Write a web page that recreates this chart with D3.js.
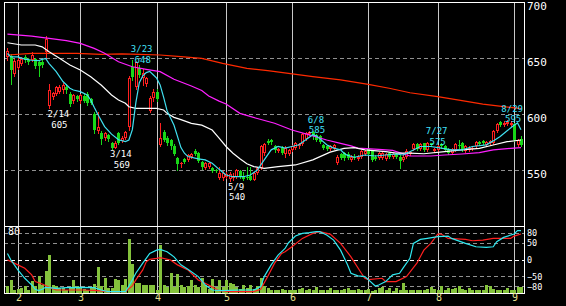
<!DOCTYPE html>
<html><head><meta charset="utf-8">
<script src="https://cdn.jsdelivr.net/npm/d3@7"></script>
<style>html,body{margin:0;padding:0;background:#000;}svg{display:block;}</style>
</head><body>
<svg id="c" width="566" height="306"></svg>
<script>
// ---------- DATA ----------
const monthLabels = ["1","2","3","4","5","6","7","8","9"];
const monthDays   = [3,18,22,20,19,22,20,22,3];   // trading days shown per month

// daily candles [open, high, low, close]
const ohlc = [
[651,659,648,656],[652,654,627,639],[636,649,634,647],[641,650,640,648],[645,651,644,649],
[651,653,646,648],[648,650,645,646],[648,655,647,653],[649,650,641,643],[646,647,634,643],
[646,648,642,644],[655,670,651,667],[607,627,605,621],[615,620,613,619],[618,625,617,624],
[620,626,619,624],[621,628,619,626],[624,627,619,621],[618,620,607,609],[612,618,610,617],
[616,617,612,613],[612,618,610,617],[616,618,611,612],[618,620,608,610],[613,614,609,610],
[600,602,583,586],[585,602,583,588],[583,585,573,578],[579,584,577,583],[581,582,576,578],
[574,575,569,570],[570,576,569.5,574],[583,584,573,574],[576,580,575,579],[579,585,578,584],
[588,634,586,632],[642,648,630,633],[624,647,622,646],[641,644,633,635],[632,640,626,637],
[627,633,625,632],[603,616,602,614],[614,622,612,620],[620,622,612,613],[572,592,571,579],
[584,586,576,577],[579,580,572,574],[577,578,569,571],[571,573,563,564],[561,562,550,555],
[555,557,553,556],[560,561,556,557],[559,564,558,563],[562,565,561,564],[567,569,563,564],
[565,566,557,558],[557,558,551,553],[552,557,551,556],[553,557,552,556],[552,553,548,549],
[550,551,548,549],[543,553,542,547],[543,549,541,547],[544,548,543,546],[542,548,540,546],
[543,547,541,545],[544,551,543,550],[549,550,543,544],[545,548,541,542],[544,553,542,543],
[545,553,541,541.5],[541,548,541,547],[547,553,546,552],[552,572,551,571],[565,574,563,573],
[576,578,573,574],[577,578,573,575],[571,572,566,568],[567,570,566,569],[570,571,564,565],
[564,571,562,570],[564,569,563,568],[568,572,567,571],[570,575,569,574],[571,574,570,573],
[573,583,572,582],[578,584,577,583],[582,585,581,584],[584,584.5,578,580],[581,582,576,577],
[580,581,574,575],[572,573,569,570],[571,572,568,569],[569,572,568,571],[570,573,569,572],
[556,563,555,562],[564,565,560,561],[565,566,559,561],[564,566,560,561],[559,563,558,562],
[562,564,560,561],[560,563,559,562],[562,568,561,567],[564,568,563,567],[569,570,563,564],
[567,568,558,559],[562,563,559,560],[561,566,560,565],[561,566,560,565],[560,565,559,564],
[565,566,561,562],[562,565,561,564],[564,565,561,562],[562,563,552,558],[559,563,558,562],
[562,569,561,567],[564,567,563,566],[569,574,568,573],[573,574,568,569],[569,574,568,573],
[574,574.5,567,568],[568,575,567,574],[574,574.5,571,572],[567,570,566,569],[568,572,567,571],
[573,574,570,571],[571,572,567,568],[569,570,564,565],[565,570,564,569],[568,574,567,573],
[572,577,570,571],[574,575,567,568],[567,572,566,571],[568,571,567,570],[569,571,568,570],
[571,576,570,575],[575,576,572,573],[576,577,573,574],[572,576,571,575],[574,577,573,576],
[574,586,573,585],[585,592,584,591],[593,594,589,590],[590,594,589,592],[591,595,590,593],
[590,594,589,592],[591,592,576,577],[572,578,571,577],[578,580,571,572]
];

const volume = [
10,20,5,6,7,11,4,18,11,26, 12,33,57,12,10,7,7,5,7,20, 10,7,6,5,7,14,39,10,23,7,
7,21,19,12,21,80,44,15,15,12, 12,12,12,5,71,12,9,30,9,28, 12,9,10,19,12,9,23,12,6,21,
9,20,9,19,15,14,9,6,12,7, 12,6,11,22,11,7,5,4,5,6, 5,5,5,5,6,7,5,6,5,9,
5,5,5,7,5,5,4,6,7,4, 5,6,4,5,6,3,5,7,9,4, 7,3,7,5,15,5,4,5,5,5,
4,6,9,6,5,10,5,7,6,7, 11,6,5,7,5,4,4,4,12,11, 6,5,4,4,7,5,4,9,9
];

// moving averages: [day index, value]
const maShort = [[0,654],[1,651],[3,651],[5,649],[7,648],[9,647.6],[10,648.8],[11,649.7],[12,645],[14,638],
[16,629],[18,623],[19,621.4],[21,620],[23,617],[24,612.5],[25,606],[26,600],[28,588.7],[30,582],[32,577],
[34,575.3],[35,576.8],[36,586],[37,610],[38,628],[39,634],[40,637],[41,638],[42,635],[43,632],[44,626],
[45,615],[46,603],[48,590],[49,580],[50,570],[51,565],[52,562],[55,560],[57,559],[59,556],[61,550.6],
[63,545.5],[65,544],[68,544],[70,545.5],[72,550],[74,559],[76,568],[78,571],[80,569.5],[82,571],[84,572.5],
[86,577],[88,581.5],[89,580.5],[90,578],[92,572.5],[94,569.5],[96,568],[97,565],[98,563],[100,561.4],
[103,563.4],[106,562.5],[109,563.4],[112,564.3],[114,563.4],[117,567.9],[119,571],[122,571],[125,569.5],
[128,567.9],[131,567.9],[134,571],[138,572.5],[140,576],[142,580],[144,585],[146,590],[147,592],[148,586]];
const maMid = [[0,663.6],[4,661.6],[8,661.6],[10,660],[12,655.6],[15,649.7],[18,643.7],[21,639.3],[24,633.3],
[27,625.9],[30,617],[32,612.5],[34,609.6],[35,606.5],[37,605],[40,605],[43,605],[45,603.6],[46,600.6],[48,597],
[50,595],[53,591.7],[56,590],[59,585.7],[61,578.5],[63,571],[65,565],[67,560],[69,555.5],[71,553],[74,551.5],
[78,553],[83,554.5],[88,559],[93,566],[97,569.3],[100,570],[103,567.9],[109,566.4],[112,565],[116,565],
[120,564.5],[126,566.4],[131,567.9],[136,569.3],[140,572.3],[144,575.3],[148,576.8]];
const maLong = [[0,671.4],[7,669.6],[12,667.6],[17,665.5],[21,663],[25,658.6],[28,654.2],[32,646.7],[36,642.2],
[40,639.9],[44,637.8],[48,631],[53,625],[56,621],[58,616],[61,611.5],[63,609],[67,600.6],[72,596],[77,591.7],
[82,585.7],[87,581.3],[92,576.8],[96,573.8],[99,571.5],[101,569.6],[107,568.4],[111,567.5],[114,564.5],
[116,562.5],[122,562.5],[126,563.4],[131,564.3],[136,565.5],[140,567.9],[145,569.3],[148,570]];
const maTrend = [[0,652.7],[7,654.2],[20,654.2],[27,653.3],[33,653.6],[38,653.3],[44,652.7],[50,651.2],
[56,649.7],[62,645.2],[69,640.8],[75,638.7],[81,636.3],[88,633.3],[96,630.4],[104,626.5],[110,623],
[116,619],[124,615.5],[131,611.9],[137,608.9],[143,606.5],[148,604.8]];

// RCI lines (lower panel): [day index, value]
const rciFast = [[0,18],[1,-1.5],[3,-31],[5,-56],[6,-66],[7,-76],[8,-89],[9,-93],[10,-89],[11,-83],[12,-84],
[14,-86],[17,-84],[21,-83],[25,-84],[27,-91],[29,-96],[34,-96],[35,-79],[36,-61],[37,-41],[39,-11],[41,18],
[43,28],[44,30],[46,23],[48,8],[50,-16],[52,-29],[55,-51],[57,-76],[59,-91],[62,-93],[67,-91],[71,-91],
[73,-81],[74,-51],[76,-16],[78,13],[80,33],[81,50],[83,70],[85,78],[87,80],[89,83],[90,83],[92,73],[94,58],
[96,28],[98,-16],[99,-41],[101,-49],[103,-51],[104,-60],[106,-79],[107,-76],[109,-66],[111,-46],[113,-41],
[114,-26],[116,3.5],[117,48],[119,60],[121,63],[124,68],[127,70],[128,63],[132,48],[135,38],[138,36],
[140,38],[141,53],[143,66],[146,76],[147,86],[148,86]];
const rciSlow = [[0,-1],[3,-16],[5,-26],[7,-46],[8,-66],[10,-73],[12,-83],[14,-91],[22,-91],[26,-93],[29,-96],
[34,-96],[36,-79],[37,-61],[39,-31],[40,-7],[41,0.5],[43,3.5],[44,5.4],[47,-1.5],[49,-16],[52,-31],[53,-41],
[55,-61],[58,-76],[61,-93],[64,-96],[71,-96],[73,-89],[75,-51],[77,-11],[79,18],[80,23],[82,38],[85,63],
[88,78],[90,83],[93,76],[96,48],[99,8],[102,-41],[103,-56],[104,-60],[108,-56],[109,-66],[112,-66],
[115,-51],[118,-11],[120,28],[122,48],[124,76],[125,76],[127,63],[132,60],[134,56],[137,58],[140,63],
[145,63],[146,70],[148,76]];

const priceTicks = [700,650,600,550];
const priceGrid  = [650,600,550];
const rciTicks   = [80,50,0,-50,-80];
const volumeTopLabel = "80";
const peakLabels = [
  {i:12, date:"2/14", value:605, type:"low"},
  {i:30, date:"3/14", value:569, type:"low"},
  {i:36, date:"3/23", value:648, type:"high"},
  {i:64, date:"5/9",  value:540, type:"low"},
  {i:87, date:"6/8",  value:585, type:"high"},
  {i:121,date:"7/27", value:575, type:"high"},
  {i:144,date:"8/29", value:595, type:"high"}
];

// ---------- CHART ----------
const W = 566, H = 306;
const L = 4, R = 524, T = 2, MB = 226, B = 293;
const FONT = "DejaVu Sans Mono, monospace";
const n = ohlc.length;

const x  = d3.scaleLinear().domain([0, n-1]).range([7.44, 521]);
const y  = d3.scaleLinear().domain([500, 700]).range([MB, T]);
const yr = d3.scaleLinear().domain([-100, 100]).range([B, MB]);
const yv = d3.scaleLinear().domain([0, 100]).range([B, MB]);

const svg = d3.select("#c");
svg.append("rect").attr("width", W).attr("height", H).attr("fill", "#000");

const px = i => Math.round(x(i));

// month starts
const monthStart = [];
let acc = 0;
monthDays.forEach(d => { monthStart.push(acc); acc += d; });
const monthTicks = monthStart.map((s,k) => ({i:s, label:monthLabels[k]})).filter(d => d.i > 0);

// grids
const grid = svg.append("g").attr("shape-rendering","crispEdges");
grid.selectAll("line.v").data(monthTicks).join("line").attr("class","v")
  .attr("x1", d => px(d.i)+0.5).attr("x2", d => px(d.i)+0.5)
  .attr("y1", T).attr("y2", B).attr("stroke", "#c8c8c8");
grid.selectAll("line.hp").data(priceGrid).join("line").attr("class","hp")
  .attr("x1", L).attr("x2", R).attr("y1", d => Math.round(y(d))+0.5).attr("y2", d => Math.round(y(d))+0.5)
  .attr("stroke", "#909090").attr("stroke-dasharray", "4,3");
grid.selectAll("line.hr").data(rciTicks).join("line").attr("class","hr")
  .attr("x1", L).attr("x2", R).attr("y1", d => Math.round(yr(d))+0.5).attr("y2", d => Math.round(yr(d))+0.5)
  .attr("stroke", d => d === 0 ? "#ffffff" : "#909090").attr("stroke-dasharray", "4,3");

// volume bars
svg.append("g").attr("shape-rendering","crispEdges").selectAll("rect").data(volume).join("rect")
  .attr("x", (d,i) => px(i)-1).attr("width", 3)
  .attr("y", d => Math.round(yv(d))).attr("height", d => B - Math.round(yv(d)))
  .attr("fill", "#84c23c");

// RCI lines
const lineF = (sc) => d3.line().x(d => x(d[0])).y(d => sc(d[1]));
svg.append("path").datum(rciSlow).attr("d", lineF(yr)).attr("fill","none").attr("stroke","#ff2020").attr("stroke-width",1.2);
svg.append("path").datum(rciFast).attr("d", lineF(yr)).attr("fill","none").attr("stroke","#30e8f0").attr("stroke-width",1.2);

// candles
const cg = svg.append("g").attr("shape-rendering","crispEdges");
const cand = cg.selectAll("g").data(ohlc).join("g");
cand.append("line")
  .attr("x1", (d,i) => px(i)+0.5).attr("x2", (d,i) => px(i)+0.5)
  .attr("y1", d => Math.round(y(d[1]))).attr("y2", d => Math.round(y(d[2]))+1)
  .attr("stroke", d => d[3] >= d[0] ? "#ff2020" : "#18d818");
cand.append("rect")
  .attr("x", (d,i) => d[3] >= d[0] ? px(i)-0.5 : px(i)-1)
  .attr("width", d => d[3] >= d[0] ? 2 : 3)
  .attr("y", d => d[3] >= d[0] ? Math.round(y(Math.max(d[0],d[3])))+0.5 : Math.round(y(Math.max(d[0],d[3]))))
  .attr("height", d => { const h = Math.round(y(Math.min(d[0],d[3]))) - Math.round(y(Math.max(d[0],d[3])));
        return d[3] >= d[0] ? Math.max(h-1,0.01) : Math.max(h,1); })
  .attr("fill", d => d[3] >= d[0] ? "#000" : "#18d818")
  .attr("stroke", d => d[3] >= d[0] ? "#ff2020" : "none");

// moving averages
const maStyles = [
  [maTrend, "#ff2a00"], [maLong, "#ff20ff"], [maMid, "#ffffff"], [maShort, "#40e0f0"]
];
maStyles.forEach(([data, col]) => {
  svg.append("path").datum(data).attr("d", lineF(y)).attr("fill","none")
    .attr("stroke", col).attr("stroke-width", 1.2);
});

// panel frames
const frame = svg.append("g").attr("shape-rendering","crispEdges").attr("stroke","#ffffff").attr("fill","none");
frame.append("rect").attr("x", L+0.5).attr("y", T+0.5).attr("width", R-L).attr("height", B-T);
frame.append("line").attr("x1", L).attr("x2", R).attr("y1", MB+0.5).attr("y2", MB+0.5);

// price axis (right)
const pAxis = svg.append("g").attr("transform", `translate(${R},0)`)
  .call(d3.axisRight(y).tickValues(priceTicks).tickSize(0).tickPadding(3).tickFormat(d3.format("d")));
pAxis.select(".domain").remove();
pAxis.selectAll("text").attr("fill","#ffffff").attr("font-family",FONT).attr("font-size","11px")
  .attr("dy","0.78em").attr("y", -1);

// RCI axis (right)
const rAxis = svg.append("g").attr("transform", `translate(${R},0)`)
  .call(d3.axisRight(yr).tickValues(rciTicks).tickSize(0).tickPadding(3).tickFormat(d3.format("d")));
rAxis.select(".domain").remove();
rAxis.selectAll("text").attr("fill","#ffffff").attr("font-family",FONT).attr("font-size","8.5px").attr("dy","0.36em");

// month axis (bottom)
const mAxis = svg.append("g").attr("transform", `translate(0,${B})`)
  .call(d3.axisBottom(d3.scaleLinear().domain(x.domain()).range(x.range()))
    .tickValues(monthTicks.map(d => d.i))
    .tickFormat((d,k) => monthTicks[k].label).tickSize(0).tickPadding(1));
mAxis.select(".domain").remove();
mAxis.selectAll("text").attr("fill","#e8e090").attr("font-family",FONT).attr("font-size","10px")
  .attr("transform", d => `translate(${px(d)+0.5 - x(d)},0)`);

// left label in lower panel
svg.append("text").attr("x", 8).attr("y", 235).attr("fill","#ffffff")
  .attr("font-family",FONT).attr("font-size","10px").text(volumeTopLabel);

// peak labels
const FS = 9, LH = 10.6, CW = 5.42;
const lg = svg.append("g");
peakLabels.forEach(p => {
  const col = p.type === "high" ? "#40e0f8" : "#ffffff";
  const dateW = p.date.length * CW;
  let left = x(p.i) - 1.5;
  if (left + dateW > R - 1) left = R - 1 - dateW;
  const cx = left + dateW / 2;
  const yy = y(p.value);
  let y1, y2;
  if (p.type === "high") { y2 = yy + 2.5; y1 = y2 - LH; }
  else { y1 = yy + 8.5; y2 = y1 + LH; }
  lg.append("text").attr("x", cx).attr("y", y1).attr("text-anchor","middle").attr("fill",col)
    .attr("font-family",FONT).attr("font-size",FS+"px").text(p.date);
  lg.append("text").attr("x", cx + 1).attr("y", y2).attr("text-anchor","middle").attr("fill",col)
    .attr("font-family",FONT).attr("font-size",FS+"px").text(p.value);
});
</script>
</body></html>
